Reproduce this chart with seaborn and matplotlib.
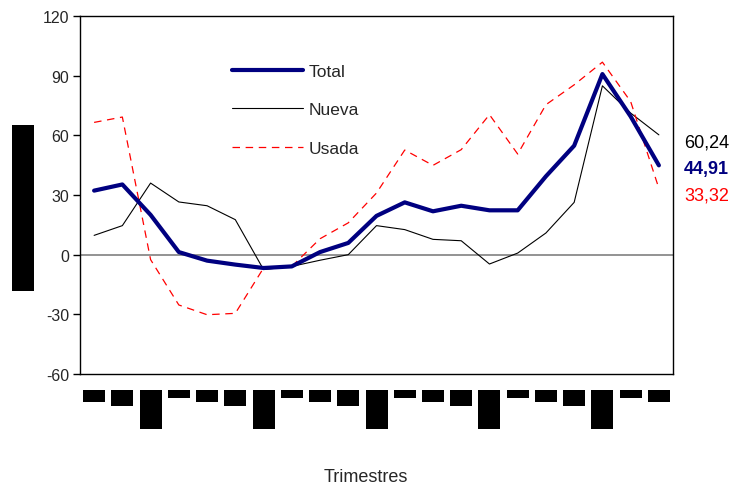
import matplotlib
matplotlib.use("Agg")
import matplotlib.pyplot as plt
import matplotlib.transforms as mtransforms
from matplotlib.patches import Rectangle
import numpy as np
import pandas as pd
import seaborn as sns

# Quarterly series (21 quarters)
total = [32.2, 35.3, 20.0, 1.3, -3.0, -5.0, -6.7, -5.9, 1.3, 5.9, 19.5,
         26.3, 21.8, 24.6, 22.3, 22.3, 39.4, 54.8, 90.8, 69.5, 44.91]
nueva = [9.7, 14.6, 36.0, 26.5, 24.6, 17.6, -7.5, -5.9, -2.8, 0.0, 14.6,
         12.6, 7.7, 7.0, -4.7, 0.8, 10.9, 26.3, 84.9, 71.2, 60.24]
usada = [66.5, 69.2, -2.5, -25.3, -30.2, -29.5, -6.7, -5.9, 8.0, 16.0, 31.0,
         52.6, 44.9, 52.8, 70.4, 50.6, 75.4, 85.4, 96.8, 77.0, 33.32]
y_ticks = [-60, -30, 0, 30, 60, 90, 120]
# heights (px) of the quarter tick labels, which are blacked out
label_box_heights = [12, 16, 39, 8]

sns.set_style("white")
plt.rcParams["font.family"] = ["Liberation Sans", "DejaVu Sans"]

W, H, DPI = 729, 489, 100
fig = plt.figure(figsize=(W / DPI, H / DPI), dpi=DPI)
ax_l, ax_r, ax_t, ax_b = 80, 673, 17, 375
ax = fig.add_axes([ax_l / W, 1 - ax_b / H, (ax_r - ax_l) / W, (ax_b - ax_t) / H])

n = len(total)
df = pd.DataFrame({"q": np.arange(n), "Total": total, "Nueva": nueva, "Usada": usada})

ax.axhline(0, color="#808080", lw=1.2, zorder=1)
sns.lineplot(data=df, x="q", y="Nueva", ax=ax, color="black", lw=0.8, label="Nueva", zorder=3)
sns.lineplot(data=df, x="q", y="Usada", ax=ax, color="#FF0000", lw=0.9,
             dashes=False, label="Usada", zorder=4)
ax.lines[-1].set_dashes([6, 4.5])
sns.lineplot(data=df, x="q", y="Total", ax=ax, color="#000080", lw=3.0, label="Total", zorder=5)

ax.set_xlim(-0.5, n - 0.5)
ax.set_ylim(-60, 120)
ax.set_yticks(y_ticks)
ax.set_yticklabels([str(t) for t in y_ticks], fontsize=11.5)
ax.set_xticks([])
ax.set_xlabel("")
ax.set_ylabel("")
ax.tick_params(axis="y", direction="out", length=5, width=1, color="black", pad=3, left=True)
for s in ax.spines.values():
    s.set_color("black")
    s.set_linewidth(1.0)

# legend: Total, Nueva, Usada
handles, labels = ax.get_legend_handles_labels()
order = [labels.index(k) for k in ["Total", "Nueva", "Usada"]]
ax.legend([handles[i] for i in order], [labels[i] for i in order],
          loc="upper left", bbox_to_anchor=(0.256, 0.867), frameon=False, borderpad=0,
          borderaxespad=0, fontsize=12.5, handlelength=4.1, handletextpad=0.3,
          labelspacing=1.35)

# last-quarter values to the right of the plot
def right_label(y, text, color, dy, weight="normal"):
    tr = mtransforms.offset_copy(ax.transData, fig=fig, x=11, y=dy, units="dots")
    ax.text(n - 0.5, y, text, transform=tr, color=color, fontsize=13, fontweight=weight,
            va="center", ha="left", clip_on=False)

right_label(nueva[-1], "60,24", "black", -7)
right_label(total[-1], "44,91", "#000080", -3, weight="bold")
right_label(usada[-1], "33,32", "#FF0000", -7)

# blacked-out quarter labels under each category
ax_h = ax_b - ax_t
blend = mtransforms.blended_transform_factory(ax.transData, ax.transAxes)
box_w = 22 / ((ax_r - ax_l) / n)
for i in range(n):
    h = label_box_heights[i % 4]
    top = -16 / ax_h
    ax.add_patch(Rectangle((i - box_w / 2, top - h / ax_h), box_w, h / ax_h,
                           transform=blend, color="black", clip_on=False, lw=0))

# blacked-out y-axis title
fig.patches.append(Rectangle((12 / W, 1 - 292 / H), 22 / W, (292 - 126) / H,
                             transform=fig.transFigure, color="black", lw=0))

fig.text(366 / W, 1 - 478 / H, "Trimestres", ha="center", va="center", fontsize=13)

fig.savefig("out.png", dpi=DPI)
